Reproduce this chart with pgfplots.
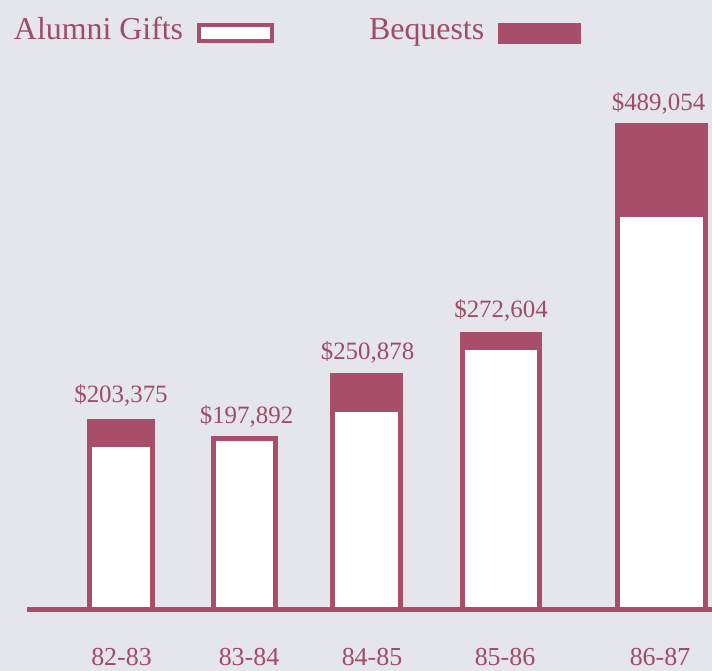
\documentclass[border=0pt]{standalone}
\usepackage{fontspec}
\setmainfont{Liberation Serif}
\usepackage{pgfplots}
\pgfplotsset{compat=1.18}
\definecolor{bgcol}{HTML}{E4E6EB}
\definecolor{barcol}{HTML}{A84E6B}
\definecolor{txtcol}{HTML}{A14B66}
\begin{document}
\begin{tikzpicture}
\begin{axis}[
 width=712bp, height=671bp, scale only axis,
 xmin=0, xmax=712, ymin=-61573, ymax=615734,
 axis x line=middle, axis y line=none,
 axis line style={draw=none},
 ytick=\empty,
 xtick={121.5,249,372,505,660},
 xticklabels={82-83,83-84,84-85,85-86,86-87},
 major tick length=0pt,
 xticklabel style={anchor=base, inner sep=0pt, yshift=-55bp, font=\fontsize{26}{30}\selectfont, text=txtcol},
 axis background/.style={fill=bgcol},
 ybar, bar shift=0pt,
 clip=false,
 legend plot pos=right,
 legend style={draw=none, fill=none, inner sep=0pt, outer sep=0pt, legend columns=2,
   at={(axis cs:12,600593)}, anchor=north west,
   font=\fontsize{32}{38}\selectfont, text=txtcol,
   cells={anchor=base west, inner sep=0pt},
   /tikz/every odd column/.append style={column sep=11.5bp},
   /tikz/every even column/.append style={column sep=93bp},
   /tikz/column 3/.append style={column sep=7.5bp}},
 every node near coord/.append style={font=\fontsize{25}{30}\selectfont, text=txtcol, inner sep=0pt, anchor=south},
]
\addlegendimage{legend image code/.code={\draw[draw=barcol, fill=white, line width=4.5bp] (0bp,-1.5bp) rectangle (73bp,14.5bp);}}
\addlegendentry{Alumni Gifts}
\addlegendimage{legend image code/.code={\draw[draw=barcol, fill=barcol, line width=4.5bp] (0bp,-2.5bp) rectangle (79bp,14.5bp);}}
\addlegendentry{Bequests}

% 82-83
\addplot[forget plot, fill=barcol, draw=barcol, line width=5bp, bar width=63, nodes near coords, point meta=explicit symbolic, every node near coord/.append style={yshift=13bp}] coordinates {(121,190300) [\$203,375]};
\addplot[forget plot, fill=white, draw=barcol, line width=5bp, bar width=63] coordinates {(121,167100)};
% 83-84
\addplot[forget plot, fill=white, draw=barcol, line width=5bp, bar width=62, nodes near coords, point meta=explicit symbolic, every node near coord/.append style={yshift=9bp, xshift=2bp}] coordinates {(244.5,173100) [\$197,892]};
% 84-85
\addplot[forget plot, fill=barcol, draw=barcol, line width=5bp, bar width=68, nodes near coords, point meta=explicit symbolic, every node near coord/.append style={yshift=10bp, xshift=1bp}] coordinates {(366.5,236700) [\$250,878]};
\addplot[forget plot, fill=white, draw=barcol, line width=5bp, bar width=68] coordinates {(366.5,202400)};
% 85-86
\addplot[forget plot, fill=barcol, draw=barcol, line width=5bp, bar width=77, nodes near coords, point meta=explicit symbolic, every node near coord/.append style={yshift=11bp}] coordinates {(501,278100) [\$272,604]};
\addplot[forget plot, fill=white, draw=barcol, line width=5bp, bar width=77] coordinates {(501,265000)};
% 86-87
\addplot[forget plot, fill=barcol, draw=barcol, line width=5bp, bar width=88, nodes near coords, point meta=explicit symbolic, every node near coord/.append style={yshift=9bp, xshift=-3bp}] coordinates {(661.5,489054) [\$489,054]};
\addplot[forget plot, fill=white, draw=barcol, line width=5bp, bar width=88] coordinates {(661.5,399200)};
% baseline
\addplot[forget plot, sharp plot, draw=barcol, line width=5bp] coordinates {(27,0) (712,0)};
\end{axis}
\pgfresetboundingbox
\path (current axis.south west) rectangle (current axis.north east);
\end{tikzpicture}
\end{document}
